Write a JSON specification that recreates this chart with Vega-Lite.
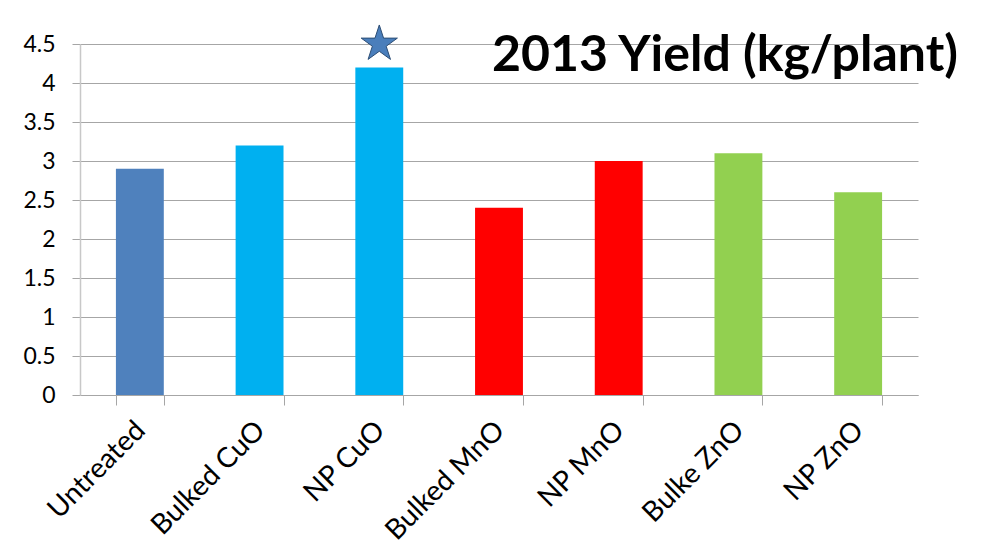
{
  "$schema": "https://vega.github.io/schema/vega-lite/v6.json",
  "width": 838,
  "height": 351,
  "autosize": {"type": "none"},
  "padding": {"left": 80, "top": 44, "right": 70, "bottom": 159},
  "background": "white",
  "title": {
    "text": "2013 Yield (kg/plant)",
    "anchor": "end",
    "frame": "group",
    "orient": "top",
    "offset": 0,
    "dx": 40,
    "dy": 58,
    "font": "Lato",
    "fontSize": 50,
    "fontWeight": "bold",
    "color": "black"
  },
  "data": {
    "values": [
      {"category": "Untreated", "group": "Untreated", "yield": 2.9},
      {"category": "Bulked CuO", "group": "CuO", "yield": 3.2},
      {"category": "NP CuO", "group": "CuO", "yield": 4.2},
      {"category": "Bulked MnO", "group": "MnO", "yield": 2.4},
      {"category": "NP MnO", "group": "MnO", "yield": 3.0},
      {"category": "Bulke ZnO", "group": "ZnO", "yield": 3.1},
      {"category": "NP ZnO", "group": "ZnO", "yield": 2.6}
    ]
  },
  "encoding": {
    "x": {
      "field": "category",
      "type": "nominal",
      "sort": null,
      "title": null,
      "scale": {"paddingInner": 0.6, "paddingOuter": 0.3},
      "axis": {
        "labelAngle": -45,
        "labelAlign": "right",
        "labelBaseline": "top",
        "labelOffset": -9,
        "labelPadding": 11,
        "tickBand": "extent",
        "tickSize": 10,
        "labelLimit": 0
      }
    }
  },
  "layer": [
    {
      "mark": {"type": "bar"},
      "encoding": {
        "y": {
          "field": "yield",
          "type": "quantitative",
          "title": null,
          "scale": {"domain": [0, 4.5], "nice": false},
          "axis": {
            "values": [0, 0.5, 1, 1.5, 2, 2.5, 3, 3.5, 4, 4.5],
            "format": "~g",
            "labelOverlap": false
          }
        },
        "color": {
          "field": "group",
          "type": "nominal",
          "legend": null,
          "scale": {
            "domain": ["Untreated", "CuO", "MnO", "ZnO"],
            "range": ["#4f81bd", "#00b0f0", "#ff0000", "#92d050"]
          }
        }
      }
    },
    {
      "transform": [{"filter": "datum.category === 'NP CuO'"}],
      "mark": {
        "type": "point",
        "shape": "M0,-1 L0.2245,-0.309 L0.951,-0.309 L0.363,0.118 L0.588,0.809 L0,0.382 L-0.588,0.809 L-0.363,0.118 L-0.951,-0.309 L-0.2245,-0.309 Z",
        "size": 1450,
        "filled": true,
        "fill": "#4a7ebb",
        "stroke": "#2c4d75",
        "strokeWidth": 1,
        "opacity": 1
      },
      "encoding": {
        "y": {
          "datum": 4.5,
          "type": "quantitative",
          "scale": {"domain": [0, 4.5], "nice": false},
          "axis": {
            "values": [0, 0.5, 1, 1.5, 2, 2.5, 3, 3.5, 4, 4.5],
            "format": "~g",
            "labelOverlap": false
          }
        }
      }
    }
  ],
  "config": {
    "view": {"stroke": null},
    "axisX": {
      "labelFont": "Lato",
      "labelFontSize": 28,
      "labelColor": "black",
      "tickColor": "#a6a6a6",
      "domainColor": "#a6a6a6"
    },
    "axisY": {
      "labelFont": "Lato",
      "labelFontSize": 23,
      "labelColor": "black",
      "labelPadding": 17,
      "tickSize": 8,
      "tickColor": "#a6a6a6",
      "gridColor": "#a6a6a6",
      "domainColor": "#c8c8c8",
      "domainWidth": 1.5
    }
  }
}
